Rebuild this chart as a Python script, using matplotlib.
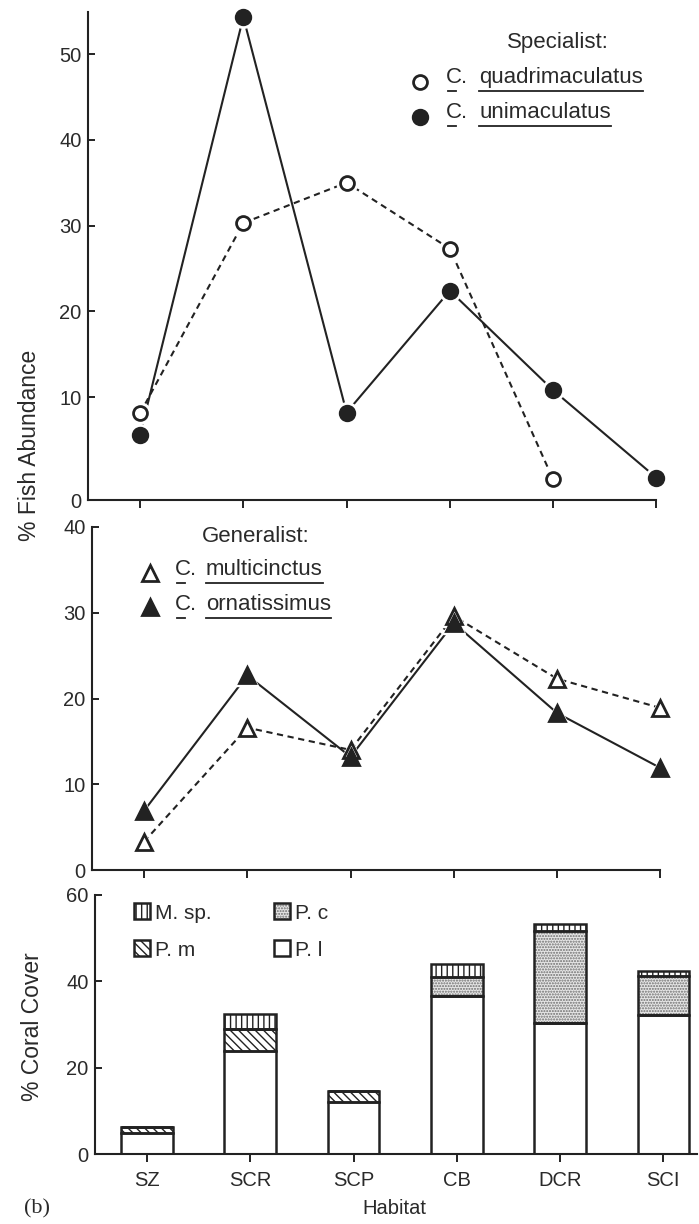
import numpy as np
import matplotlib
matplotlib.use("Agg")
import matplotlib.pyplot as plt
from matplotlib.patches import Rectangle
from matplotlib.lines import Line2D

# ---- data -------------------------------------------------------------
habitats = ["SZ", "SCR", "SCP", "CB", "DCR", "SCI"]

# % fish abundance, specialist species
c_quadrimaculatus = [8.1, 30.3, 35.0, 27.3, 0.4, np.nan]
c_unimaculatus = [5.6, 54.3, 8.2, 22.4, 10.8, 0.6]

# % fish abundance, generalist species
c_multicinctus = [3.3, 16.6, 14.0, 29.6, 22.3, 18.9]
c_ornatissimus = [6.9, 22.7, 13.2, 28.8, 18.3, 11.9]

# % coral cover by coral taxon (stacked, bottom to top)
cover_pl = [4.8, 23.9, 12.1, 36.5, 30.4, 32.1]
cover_pm = [1.4, 5.1, 2.6, 0.0, 0.0, 0.0]
cover_pc = [0.0, 0.0, 0.0, 4.4, 21.3, 9.2]
cover_msp = [0.0, 3.4, 0.0, 3.1, 1.6, 1.1]

fish_ticks = [10, 20, 30, 40, 50]
generalist_ticks = [0, 10, 20, 30, 40]
cover_ticks = [0, 20, 40, 60]

# ---- style --------------------------------------------------------------
INK = "#222222"
TXT = "#2a2a2a"
plt.rcParams["font.family"] = ["Liberation Sans", "DejaVu Sans"]
plt.rcParams["hatch.linewidth"] = 1.0
TICK_FS = 14.5
LAB_FS = 16.5
LEG_FS = 16

HATCH_PM = "\\\\\\\\"
HATCH_PC = "......"
HATCH_MSP = "|||"
PC_FACE = "#e6e6e6"
PC_DOTS = "#6e6e6e"

W, H = 699, 1224
fig = plt.figure(figsize=(W / 100, H / 100), dpi=100)
fig.patch.set_facecolor("white")


def px_box(left, right, top, bottom):
    return [left / W, 1 - bottom / H, (right - left) / W, (bottom - top) / H]


def fx(px):
    return px / W


def fy(py):
    return 1 - py / H


def style_axes(ax):
    for side in ("top", "right"):
        ax.spines[side].set_visible(False)
    for side in ("left", "bottom"):
        ax.spines[side].set_linewidth(1.5)
        ax.spines[side].set_color(INK)
    ax.tick_params(axis="y", direction="in", length=5, width=1.4,
                   colors=INK, labelcolor=TXT, labelsize=TICK_FS, pad=5)
    ax.tick_params(axis="x", direction="out", length=6, width=1.4,
                   colors=INK, labelcolor=TXT, labelsize=TICK_FS, pad=6)
    ax.set_facecolor("none")


x = np.arange(len(habitats))


def draw_series(ax, values, marker, filled, dashed, ms):
    ls = (0, (3, 2.2)) if dashed else "-"
    ax.plot(x, values, ls=ls, color=INK, lw=1.5, zorder=2, clip_on=False)
    # white halo keeps the connecting lines slightly off the symbols
    ax.plot(x, values, ls="none", marker=marker, ms=ms + 5, mfc="white",
            mec="white", zorder=3, clip_on=False)
    ax.plot(x, values, ls="none", marker=marker, ms=ms,
            mfc=INK if filled else "white", mec=INK, mew=2.0,
            zorder=4, clip_on=False)


# ---- specialist panel ----------------------------------------------------
ax1 = fig.add_axes(px_box(88.4, 656.4, 12, 500))
style_axes(ax1)
ax1.set_xlim(-0.5, 5)
ax1.set_ylim(-2.0, 54.9)
draw_series(ax1, c_quadrimaculatus, "o", False, True, 10)
draw_series(ax1, c_unimaculatus, "o", True, False, 10.5)
ax1.set_xticks(x)
ax1.set_xticklabels([])
ax1.set_yticks([-2.0] + fish_ticks)
ax1.set_yticklabels(["0"] + [str(t) for t in fish_ticks])

# ---- generalist panel ----------------------------------------------------
ax2 = fig.add_axes(px_box(92.4, 660.4, 527, 870))
style_axes(ax2)
ax2.set_xlim(-0.5, 5)
ax2.set_ylim(0, 40)
draw_series(ax2, c_multicinctus, "^", False, True, 11)
draw_series(ax2, c_ornatissimus, "^", True, False, 11)
ax2.set_xticks(x)
ax2.set_xticklabels([])
ax2.set_yticks(generalist_ticks)

# ---- coral cover panel -----------------------------------------------------
ax3 = fig.add_axes(px_box(95.4, 697, 895, 1154))
style_axes(ax3)
ax3.set_xlim(-0.5, 5 + (697 - 663.4) / 103.2)
ax3.set_ylim(0, 60)
ax3.set_xticks(x)
ax3.set_xticklabels(habitats)
ax3.set_yticks(cover_ticks)

layers = [
    (cover_pl, "white", None, INK),
    (cover_pm, "white", HATCH_PM, INK),
    (cover_pc, PC_FACE, HATCH_PC, PC_DOTS),
    (cover_msp, "white", HATCH_MSP, INK),
]
bottom = np.zeros(len(habitats))
BAR_W = 0.5
for vals, face, hatch, hcol in layers:
    vals = np.asarray(vals)
    ax3.bar(x, vals, BAR_W, bottom=bottom, color=face, hatch=hatch,
            edgecolor=hcol, linewidth=0, zorder=2)
    ax3.bar(x, vals, BAR_W, bottom=bottom, fill=False,
            edgecolor=INK, linewidth=1.8, zorder=3)
    bottom = bottom + vals

# ---- axis titles -----------------------------------------------------------
fig.text(fx(30), fy(445), "% Fish Abundance", rotation=90, ha="center",
         va="center", fontsize=LAB_FS, color=TXT)
fig.text(fx(33), fy(1027), "% Coral Cover", rotation=90, ha="center",
         va="center", fontsize=LAB_FS, color=TXT)
fig.text(fx(394), fy(1209), "Habitat", ha="center", va="center",
         fontsize=TICK_FS, color=TXT)
fig.text(fx(37), fy(1209), "(b)", ha="center", va="center", fontsize=16,
         color=TXT, family=["Liberation Serif", "DejaVu Serif"])

# ---- species keys ------------------------------------------------------------
underline_jobs = []


def key_row(mx, my, marker, filled, ms, cx, nx, base, name):
    fig.add_artist(Line2D([fx(mx)], [fy(my)], ls="none", marker=marker,
                          ms=ms, mfc=INK if filled else "white", mec=INK,
                          mew=2.0, transform=fig.transFigure))
    tc = fig.text(fx(cx), fy(base), "C.", ha="left", va="baseline",
                  fontsize=LEG_FS, color=TXT)
    tn = fig.text(fx(nx), fy(base), name, ha="left", va="baseline",
                  fontsize=LEG_FS, color=TXT)
    underline_jobs.append((tc, tn, base + 8))


fig.text(fx(558), fy(48), "Specialist:", ha="center", va="baseline",
         fontsize=LEG_FS, color=TXT)
key_row(420, 81.7, "o", False, 10, 446, 479, 83, "quadrimaculatus")
key_row(420, 116.7, "o", True, 10.5, 446, 479, 118, "unimaculatus")

fig.text(fx(256), fy(542), "Generalist:", ha="center", va="baseline",
         fontsize=LEG_FS, color=TXT)
key_row(150, 573, "^", False, 11, 175, 206, 575, "multicinctus")
key_row(150, 607, "^", True, 11, 175, 206, 610, "ornatissimus")

fig.canvas.draw()
for tc, tn, uy in underline_jobs:
    bc = tc.get_window_extent()
    bn = tn.get_window_extent()
    fig.add_artist(Line2D([bc.x0 / W + fx(2), bc.x0 / W + fx(10)],
                          [fy(uy), fy(uy)], color=INK, lw=1.3,
                          transform=fig.transFigure))
    fig.add_artist(Line2D([bn.x0 / W, bn.x1 / W], [fy(uy), fy(uy)],
                          color=INK, lw=1.3, transform=fig.transFigure))

# ---- coral key ---------------------------------------------------------------


def coral_key(left, top, face, hatch, hcol, label):
    rect = [fx(left), fy(top + 16), fx(16), 16 / H]
    fig.add_artist(Rectangle(rect[:2], rect[2], rect[3], facecolor=face,
                             hatch=hatch, edgecolor=hcol, linewidth=0,
                             transform=fig.transFigure))
    fig.add_artist(Rectangle(rect[:2], rect[2], rect[3], fill=False,
                             edgecolor=INK, linewidth=1.8,
                             transform=fig.transFigure))
    fig.text(fx(left + 21), fy(top + 16), label, ha="left", va="baseline",
             fontsize=LEG_FS - 1, color=TXT)


coral_key(134, 903, "white", HATCH_MSP, INK, "M. sp.")
coral_key(134, 940, "white", HATCH_PM, INK, "P. m")
coral_key(274, 903, PC_FACE, HATCH_PC, PC_DOTS, "P. c")
coral_key(274, 940, "white", None, INK, "P. l")

fig.savefig("out.png", dpi=100, facecolor="white")
